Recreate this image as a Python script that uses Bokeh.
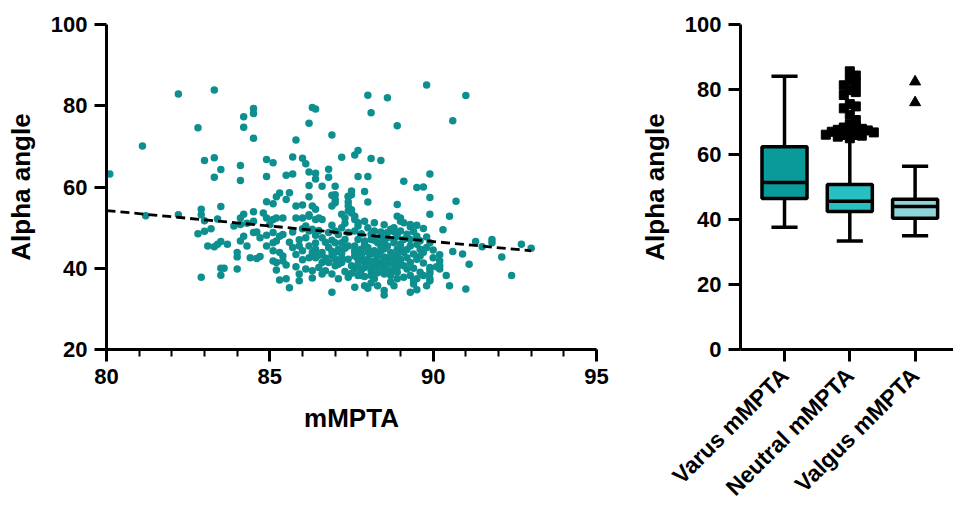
import numpy as np
from bokeh.plotting import figure
from bokeh.layouts import row
from bokeh.models import FixedTicker, Range1d
from bokeh.embed import file_html
from bokeh.resources import INLINE

# ---------------- data: scatter (mMPTA vs Alpha angle) ----------------
mmpta = [
    80.1, 81.1, 82.2, 83.3, 82.8, 83.0, 83.3, 83.5, 83.3, 84.2,
    84.5, 84.5, 84.2, 84.5, 84.1, 84.1, 84.9, 85.1, 84.9, 85.5,
    85.7, 85.7, 86.0, 86.1, 85.8, 86.2, 86.3, 86.4, 86.9, 87.2,
    87.6, 87.7, 86.2, 86.4, 86.8, 86.8, 86.4, 86.6, 86.2, 87.0,
    86.2, 86.9, 87.4, 87.5, 87.7, 85.6, 85.3, 85.2, 85.5, 84.9,
    85.1, 86.0, 83.5, 82.9, 88.0, 88.6, 89.8, 91.0, 88.1, 88.9,
    90.6, 88.1, 88.4, 88.0, 89.1, 89.9, 89.5, 89.7, 87.9, 87.4,
    88.0, 88.9, 89.9, 90.7, 81.2, 82.2, 82.9, 83.0, 83.4, 82.8,
    83.0, 83.2, 83.1, 83.3, 83.4, 83.5, 83.7, 83.5, 83.6, 83.5,
    82.9, 84.0, 84.0, 84.0, 84.1, 84.2, 83.9, 84.1, 84.3, 84.5,
    84.8, 84.5, 84.1, 84.2, 84.3, 84.5, 84.6, 84.4, 84.6, 84.7,
    84.9, 85.1, 85.2, 85.4, 85.0, 84.7, 84.9, 85.1, 84.9, 85.1,
    85.2, 85.3, 85.4, 85.1, 85.3, 85.4, 85.1, 85.2, 85.4, 85.2,
    85.5, 85.3, 85.5, 85.6, 85.9, 85.8, 86.0, 86.2, 86.4, 86.1,
    86.3, 85.8, 86.4, 86.9, 87.0, 87.4, 87.2, 87.6, 87.7, 85.7,
    86.0, 86.2, 86.4, 86.1, 86.6, 86.8, 87.0, 87.2, 87.4, 87.6,
    85.7, 85.9, 86.0, 86.2, 86.4, 86.6, 86.4, 86.2, 86.1, 86.3,
    86.6, 86.7, 86.9, 87.1, 86.9, 87.0, 87.2, 87.4, 87.5, 87.6,
    87.4, 87.6, 87.7, 86.9, 87.0, 87.1, 87.2, 87.0, 87.3, 87.4,
    86.8, 87.0, 87.2, 87.1, 86.8, 86.6, 86.5, 87.6, 87.7, 86.3,
    86.2, 86.5, 86.6, 87.0, 87.0, 87.3, 87.4, 87.4, 87.5, 87.6,
    87.5, 89.9, 90.5, 90.3, 89.0, 89.0, 89.3, 89.5, 89.7, 87.5,
    87.9, 88.2, 88.0, 88.2, 91.3, 91.5, 90.6, 90.9, 90.2, 90.2,
    91.1, 90.4, 90.5, 91.0, 89.9, 90.1, 90.2, 89.9, 89.7, 89.9,
    89.8, 89.3, 89.5, 89.4, 89.5, 89.3, 89.6, 88.5, 88.5, 88.9,
    89.1, 88.8, 88.2, 87.9, 88.3, 87.9, 88.7, 88.8, 88.6, 88.4,
    88.9, 89.0, 89.2, 89.1, 88.8, 88.5, 88.3, 88.1, 87.9, 87.7,
    87.6, 87.8, 88.0, 88.2, 88.4, 88.6, 88.7, 88.9, 89.1, 89.3,
    89.5, 89.6, 89.4, 89.2, 89.0, 88.8, 88.6, 88.4, 88.2, 88.0,
    87.8, 87.6, 87.7, 87.9, 88.1, 88.3, 88.5, 88.7, 88.9, 89.1,
    89.3, 89.5, 89.6, 89.7, 89.8, 89.9, 89.3, 89.5, 89.1, 88.9,
    89.3, 88.7, 88.5, 88.1, 87.8, 91.8, 91.8, 92.7, 93.0, 92.1,
    92.4, 90.2, 89.9, 89.9, 88.0, 88.6, 88.8, 89.0, 88.4, 88.2,
    87.9, 88.1, 88.3, 88.5, 88.7, 88.9, 89.0, 89.2, 88.5, 88.0,
    87.8, 87.6, 87.9, 88.2, 88.4, 88.6, 88.8, 89.0, 89.2, 89.4,
    88.9, 88.6, 88.3, 88.0, 87.8, 87.5, 87.3, 87.2, 87.3, 86.9,
    86.7, 86.5, 86.3, 86.7, 86.9, 87.1, 86.5, 86.9, 87.3, 88.4,
    88.1, 87.8, 87.7, 88.5, 88.8, 89.4, 89.6, 89.8, 89.7, 90.0,
    90.0, 89.4, 88.7, 88.1, 86.4, 85.9, 85.6, 85.8, 86.0, 85.8,
    86.3, 85.9,
]
alpha_angle = [
    63.2, 70.1, 82.9, 83.9, 74.6, 66.5, 67.2, 64.3, 62.4, 77.3,
    79.3, 78.1, 74.7, 72.0, 65.3, 61.6, 66.8, 66.0, 62.6, 62.9,
    63.2, 67.4, 67.1, 65.7, 71.6, 75.7, 79.6, 79.2, 72.8, 67.3,
    67.9, 69.0, 63.7, 63.4, 64.4, 62.4, 62.0, 60.2, 60.4, 60.2,
    57.6, 58.0, 57.6, 58.1, 62.6, 58.6, 58.5, 57.6, 56.9, 56.4,
    55.9, 55.6, 55.2, 54.5, 82.6, 82.0, 85.1, 82.5, 78.3, 75.1,
    76.3, 67.0, 66.5, 62.6, 61.4, 63.2, 59.9, 60.0, 58.9, 56.3,
    56.3, 55.7, 57.4, 56.5, 52.9, 53.2, 53.2, 51.7, 52.1, 48.5,
    49.1, 49.7, 45.5, 45.3, 45.9, 46.6, 45.9, 40.0, 40.0, 38.3,
    37.8, 43.9, 42.8, 39.8, 52.4, 53.3, 50.4, 50.8, 51.1, 53.9,
    53.6, 51.6, 46.7, 47.9, 45.5, 48.8, 48.9, 42.6, 42.4, 42.9,
    52.4, 52.0, 52.4, 52.4, 50.8, 47.5, 48.1, 48.8, 45.5, 46.3,
    46.7, 47.9, 48.3, 44.3, 43.9, 43.0, 41.8, 41.4, 41.8, 39.6,
    40.8, 37.1, 37.4, 35.2, 36.9, 52.4, 52.4, 52.8, 52.0, 50.4,
    49.6, 55.3, 54.5, 55.3, 56.1, 54.1, 53.3, 52.0, 51.2, 48.9,
    49.7, 49.2, 48.1, 47.5, 47.5, 48.8, 49.2, 50.0, 48.8, 49.2,
    45.1, 45.5, 44.3, 45.5, 44.7, 43.9, 42.6, 42.6, 39.8, 39.4,
    38.6, 39.4, 38.6, 37.4, 34.1, 40.6, 41.4, 42.2, 40.6, 39.8,
    37.8, 35.3, 38.2, 43.1, 43.9, 44.7, 46.3, 46.3, 47.1, 45.5,
    45.1, 42.2, 42.6, 41.0, 41.4, 41.4, 40.2, 43.9, 42.2, 55.3,
    53.2, 52.4, 52.0, 56.9, 58.1, 52.4, 55.3, 57.7, 59.0, 52.8,
    54.4, 53.3, 52.8, 49.5, 52.4, 51.6, 50.8, 50.6, 49.8, 53.6,
    51.6, 51.2, 50.0, 49.2, 46.6, 45.3, 44.1, 43.5, 43.3, 41.8,
    41.0, 38.2, 35.7, 34.9, 40.2, 40.4, 39.8, 38.8, 38.2, 36.9,
    35.7, 34.1, 34.7, 36.1, 37.4, 38.2, 39.0, 34.5, 33.4, 37.4,
    37.8, 35.7, 37.4, 35.7, 35.7, 38.0, 49.6, 50.0, 48.8, 47.9,
    47.9, 49.2, 48.4, 47.1, 47.1, 46.7, 46.3, 47.1, 46.7, 47.1,
    45.5, 44.7, 45.1, 44.3, 44.3, 45.5, 43.9, 44.7, 43.9, 45.5,
    45.9, 44.7, 43.5, 42.6, 42.2, 41.8, 42.2, 41.4, 41.8, 42.2,
    42.6, 43.0, 41.0, 40.2, 39.4, 40.2, 39.8, 39.4, 40.2, 40.6,
    41.4, 42.2, 43.0, 43.9, 45.1, 46.3, 47.1, 47.9, 51.2, 52.8,
    50.2, 38.2, 38.6, 38.2, 38.2, 47.1, 46.3, 45.9, 44.9, 42.8,
    38.2, 40.6, 39.6, 37.4, 35.1, 47.5, 46.3, 46.0, 45.5, 46.9,
    45.9, 43.5, 43.0, 42.8, 42.9, 43.3, 44.9, 44.6, 44.8, 43.9,
    43.3, 44.5, 41.6, 40.8, 40.6, 41.0, 40.9, 41.3, 39.8, 40.0,
    39.0, 39.2, 38.9, 40.9, 39.6, 38.8, 39.2, 43.7, 44.9, 44.2,
    42.5, 43.2, 43.9, 46.4, 46.9, 48.3, 49.3, 50.6, 51.1, 48.9,
    48.4, 48.5, 50.4, 50.7, 49.0, 49.0, 46.8, 47.7, 41.3, 42.6,
    44.5, 36.9, 36.6, 36.4, 46.2, 47.0, 46.4, 43.4, 42.1, 40.4,
    37.6, 38.6,
]
# regression line end points
fit_x = [80.0, 93.0]
fit_y = [54.2, 44.3]

scatter_x_ticks = [80, 85, 90, 95]
scatter_y_ticks = [20, 40, 60, 80, 100]

# ---------------- data: box plot ----------------
categories = ["Varus mMPTA", "Neutral mMPTA", "Valgus mMPTA"]
whisker_low = [37.6, 33.4, 35.0]
q1 = [46.5, 42.5, 40.4]
median = [51.4, 45.6, 44.0]
q3 = [62.4, 50.8, 46.2]
whisker_high = [84.1, 65.0, 56.4]
box_colors = ["#0b9a9a", "#27bfc2", "#8dd4d8"]
neutral_outliers = [85.6, 84.3, 82.9, 82.0, 81.3, 79.8, 79.2, 78.3, 75.5, 74.8,
                    74.2, 72.2, 70.6, 69.2, 68.6, 68.3, 67.9, 67.6, 67.4, 67.1,
                    67.0, 66.8, 66.5, 66.3, 66.1, 65.8, 65.5, 65.0]
valgus_outliers = [82.4, 76.0]
box_y_ticks = [0, 20, 40, 60, 80, 100]

FONT = "Liberation Sans"
TEAL = "#0e8f8f"


def style_axes(p):
    for ax in (p.xaxis[0], p.yaxis[0]):
        ax.axis_line_width = 3
        ax.axis_line_color = "black"
        ax.major_tick_line_width = 3
        ax.major_tick_line_color = "black"
        ax.minor_tick_line_width = 2
        ax.minor_tick_line_color = "black"
        ax.major_tick_in = 0
        ax.major_tick_out = 12
        ax.minor_tick_in = 0
        ax.minor_tick_out = 7
        ax.major_label_text_font = FONT
        ax.major_label_text_font_style = "bold"
        ax.major_label_text_font_size = "22px"
        ax.major_label_text_color = "black"
        ax.axis_label_text_font = FONT
        ax.axis_label_text_font_style = "bold"
        ax.axis_label_text_font_size = "26px"
        ax.axis_label_text_color = "black"
        ax.major_label_standoff = 7
    p.xgrid.visible = False
    p.ygrid.visible = False
    p.outline_line_color = None
    p.background_fill_color = "white"
    p.border_fill_color = "white"


# ---------------- left: scatter ----------------
p1 = figure(width=620, height=512, output_backend="svg", toolbar_location=None,
            x_range=Range1d(80, 95), y_range=Range1d(20, 100),
            min_border_left=106, min_border_right=24,
            min_border_top=24, min_border_bottom=160)
style_axes(p1)
p1.xaxis.ticker = FixedTicker(ticks=scatter_x_ticks,
                              minor_ticks=list(range(scatter_x_ticks[0], scatter_x_ticks[-1] + 1)))
p1.yaxis.ticker = FixedTicker(ticks=scatter_y_ticks, minor_ticks=[])
p1.xaxis.axis_label = "mMPTA"
p1.yaxis.axis_label = "Alpha angle"
p1.xaxis.axis_label_standoff = 16
p1.yaxis.axis_label_standoff = 12

p1.scatter(mmpta, alpha_angle, size=7.5, fill_color=TEAL, line_color=None)
p1.line(fit_x, fit_y, line_color="black", line_width=2.8, line_dash="9 5")

# ---------------- right: box plot ----------------
PX_PER_X = 65.3
xs = np.arange(len(categories))
p2 = figure(width=333, height=512, output_backend="svg", toolbar_location=None,
            x_range=Range1d(-0.674, 2.588), y_range=Range1d(0, 100),
            min_border_left=120, min_border_right=0,
            min_border_top=24, min_border_bottom=161)
style_axes(p2)
p2.yaxis.ticker = FixedTicker(ticks=box_y_ticks, minor_ticks=[])
p2.xaxis.ticker = FixedTicker(ticks=list(xs), minor_ticks=[])
p2.xaxis.major_label_overrides = {int(i): c for i, c in zip(xs, categories)}
p2.xaxis.major_label_orientation = np.pi / 4
p2.xaxis.major_label_text_font_size = "23px"
p2.xaxis.major_label_standoff = 10
p2.yaxis.axis_label = "Alpha angle"
p2.yaxis.axis_label_standoff = 12

box_w = 0.69
cap_w = 0.40
# whiskers
p2.segment(xs, whisker_high, xs, q3, line_color="black", line_width=3.5)
p2.segment(xs, whisker_low, xs, q1, line_color="black", line_width=3.5)
p2.segment(xs - cap_w / 2, whisker_high, xs + cap_w / 2, whisker_high, line_color="black", line_width=3.5)
p2.segment(xs - cap_w / 2, whisker_low, xs + cap_w / 2, whisker_low, line_color="black", line_width=3.5)
# boxes
p2.vbar(x=xs, width=box_w, bottom=q1, top=q3, fill_color=box_colors,
        line_color="black", line_width=3.5)
p2.segment(xs - box_w / 2, median, xs + box_w / 2, median, line_color="black", line_width=3.5)


def dodge(values, center, size_px, px_per_y):
    placed, out = [], []
    for v in values:
        k = 0
        while True:
            cand = [0] if k == 0 else [k, -k]
            found = None
            for o in cand:
                xx = center + o * size_px / PX_PER_X
                if all(((xx - a) * PX_PER_X) ** 2 + ((v - b) * px_per_y) ** 2 >= size_px ** 2
                       for a, b in placed):
                    found = xx
                    break
            if found is not None:
                break
            k += 1
        placed.append((found, v))
        out.append(found)
    return out


px_per_y = 327 / 100
n_out_x = dodge(neutral_outliers, xs[1], 6.0, px_per_y)
p2.scatter(n_out_x, neutral_outliers, marker="square", size=9, fill_color="black", line_color="black")
p2.scatter([xs[2]] * len(valgus_outliers), valgus_outliers, marker="triangle", size=11,
           fill_color="black", line_color="black")

layout = row(p1, p2, spacing=0)
open("out.html", "w").write(file_html(layout, INLINE))
